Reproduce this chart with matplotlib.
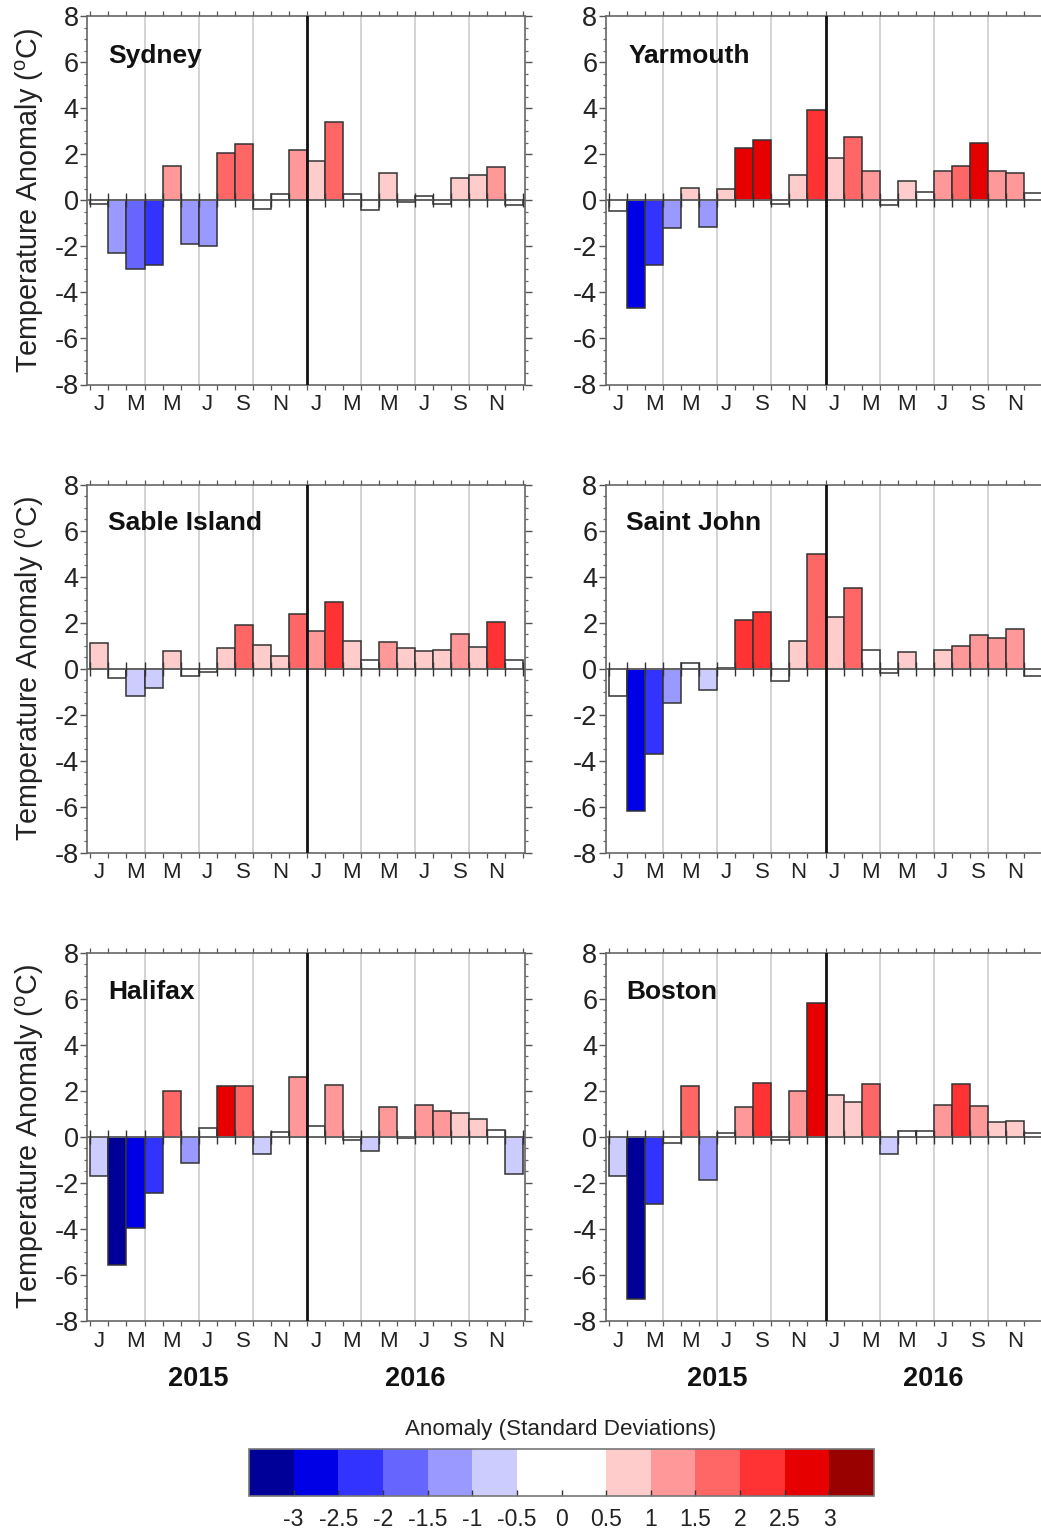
import numpy as np
import matplotlib
matplotlib.use('Agg')
import matplotlib.pyplot as plt
from matplotlib.colors import ListedColormap, BoundaryNorm

plt.rcParams['font.family'] = ['Liberation Sans', 'DejaVu Sans']
plt.rcParams['mathtext.fontset'] = 'custom'
plt.rcParams['mathtext.rm'] = 'Liberation Sans'
plt.rcParams['axes.unicode_minus'] = False

#%%
# Monthly temperature anomaly (deg C), Jan 2015 - Dec 2016
sydney = [-0.15, -2.3, -3.0, -2.82, 1.48, -1.9, -2.0, 2.05, 2.45, -0.4, 0.25, 2.2,
          1.72, 3.4, 0.25, -0.42, 1.2, -0.08, 0.2, -0.15, 0.95, 1.1, 1.43, -0.2]
yarmouth = [-0.45, -4.67, -2.82, -1.2, 0.52, -1.18, 0.47, 2.28, 2.6, -0.15, 1.1, 3.92,
            1.83, 2.73, 1.27, -0.2, 0.82, 0.35, 1.27, 1.5, 2.5, 1.25, 1.2, 0.33]
sable = [1.1, -0.4, -1.2, -0.85, 0.75, -0.3, -0.15, 0.9, 1.9, 1.05, 0.55, 2.37,
         1.63, 2.9, 1.2, 0.37, 1.17, 0.9, 0.77, 0.8, 1.5, 0.95, 2.05, 0.37]
saint_john = [-1.17, -6.2, -3.7, -1.5, 0.25, -0.93, 0.02, 2.1, 2.47, -0.55, 1.22, 5.0,
              2.23, 3.5, 0.8, -0.2, 0.72, -0.03, 0.82, 1.0, 1.48, 1.33, 1.72, -0.3]
halifax = [-1.72, -5.55, -3.95, -2.43, 2.0, -1.12, 0.37, 2.23, 2.23, -0.73, 0.2, 2.6,
           0.47, 2.25, -0.15, -0.63, 1.3, -0.03, 1.37, 1.13, 1.03, 0.77, 0.3, -1.6]
boston = [-1.7, -7.05, -2.92, -0.27, 2.23, -1.87, 0.18, 1.3, 2.33, -0.15, 2.0, 5.8,
          1.8, 1.53, 2.28, -0.73, 0.25, 0.25, 1.37, 2.28, 1.33, 0.65, 0.68, 0.15]

# Anomaly in standard deviations
sydney_sd = [-0.2, -1.2, -1.7, -2.2, 1.2, -1.2, -1.2, 1.7, 1.7, -0.2, 0.2, 1.2,
             0.7, 1.7, 0.2, -0.2, 0.7, -0.1, 0.1, -0.1, 0.7, 0.7, 1.2, -0.2]
yarmouth_sd = [-0.2, -2.7, -2.2, -1.2, 0.7, -1.2, 0.7, 2.7, 2.7, -0.2, 0.7, 2.2,
               0.7, 1.7, 1.2, -0.2, 0.7, 0.2, 1.2, 1.7, 2.7, 1.2, 1.2, 0.2]
sable_sd = [0.7, -0.2, -0.7, -0.7, 0.7, -0.2, -0.2, 0.7, 1.7, 0.7, 0.7, 1.7,
            1.2, 2.2, 0.7, 0.2, 1.2, 0.7, 0.7, 0.7, 1.2, 0.7, 2.2, 0.2]
saint_john_sd = [-0.2, -2.7, -2.2, -1.2, 0.2, -0.7, 0.0, 2.2, 2.2, -0.2, 0.7, 1.7,
                 0.7, 1.7, 0.2, -0.2, 0.7, -0.1, 0.7, 1.2, 1.2, 1.2, 1.2, -0.2]
halifax_sd = [-0.7, -3.2, -2.7, -2.2, 1.7, -1.2, 0.2, 2.7, 1.7, -0.7, 0.2, 1.2,
              0.2, 1.2, -0.2, -0.7, 1.2, -0.1, 1.2, 1.2, 0.7, 0.7, 0.2, -0.7]
boston_sd = [-0.7, -3.2, -2.2, -0.2, 1.7, -1.2, 0.2, 1.2, 2.2, -0.2, 1.2, 2.7,
             0.7, 0.7, 1.7, -0.7, 0.2, 0.2, 1.2, 2.2, 1.2, 0.7, 0.7, 0.2]

month_labels = ['J', 'M', 'M', 'J', 'S', 'N', 'J', 'M', 'M', 'J', 'S', 'N']
y_ticks = [-8, -6, -4, -2, 0, 2, 4, 6, 8]
sd_levels = [-3, -2.5, -2, -1.5, -1, -0.5, 0, 0.5, 1, 1.5, 2, 2.5, 3]
sd_labels = ['-3', '-2.5', '-2', '-1.5', '-1', '-0.5', '0', '0.5', '1', '1.5', '2', '2.5', '3']
sd_colors = ['#000099', '#0000e6', '#3333ff', '#6666ff', '#9999ff', '#ccccff', '#ffffff',
             '#ffffff', '#ffcccc', '#ff9999', '#ff6666', '#ff3333', '#e60000', '#990000']

cmap = ListedColormap(sd_colors)
bounds = [-3.5] + sd_levels + [3.5]
norm = BoundaryNorm(bounds, cmap.N)

W, H = 1041, 1530
fig = plt.figure(figsize=(W/100, H/100), dpi=100)

def px_axes(x0, y0, x1, y1):
    # pixel box (y measured from the top) to a figure axes
    return fig.add_axes([x0/W, 1-y1/H, (x1-x0)/W, (y1-y0)/H])

def panel(box, name, vals, sds, name_x, name_y, left=False, bottom=False):
    ax = px_axes(*box)
    months = np.arange(24)
    ax.set_xlim(-0.19, 24.1)
    ax.set_ylim(-8, 8)
    for g in [3, 6, 9, 15, 18, 21]:
        ax.axvline(g, color='#c8c8c8', lw=1.1, zorder=0)
    ax.bar(months, vals, width=1, align='edge', color=cmap(norm(sds)),
           edgecolor='#333333', lw=1.1, zorder=2)
    ax.axhline(0, color='#666666', lw=1.3, zorder=3)
    ax.vlines(np.arange(25), -0.3, 0.3, color='#333333', lw=1.0, zorder=3)
    ax.axvline(12, color='#111111', lw=2.0, zorder=4)

    ax.set_xticks(np.arange(0, 25), minor=True)
    ax.set_xticks(np.arange(0.5, 24, 2))
    ax.set_xticklabels(month_labels, fontsize=16, color='#222222')
    ax.tick_params(axis='x', which='major', length=0, pad=7)
    ax.tick_params(axis='x', which='minor', length=3.5, width=0.9, top=True, bottom=True, color='#555555')
    ax.set_yticks(y_ticks)
    ax.set_yticks(np.arange(-8, 8.1, 0.5), minor=True)
    ax.tick_params(axis='y', which='major', length=5, width=1.0, left=True, right=True,
                   labelsize=19.5, labelcolor='#222222', color='#555555', pad=1)
    ax.tick_params(axis='y', which='minor', length=2, width=0.9, left=True, right=True, color='#666666')
    for s in ax.spines.values():
        s.set_color('#666666')
        s.set_linewidth(1.2)
    ax.text(name_x, name_y, name, fontsize=19, fontweight='bold', color='#111111', va='center')
    if left:
        ax.set_ylabel('Temperature Anomaly ($\\mathrm{^{o}}$C)', fontsize=20.7, color='#222222')
        ax.yaxis.set_label_coords(-0.093, 0.5)
    if bottom:
        tr = ax.get_xaxis_transform()
        ax.text(6, -0.157, '2015', transform=tr, fontsize=19.5, fontweight='bold', ha='center', va='center', color='#111111')
        ax.text(18, -0.157, '2016', transform=tr, fontsize=19.5, fontweight='bold', ha='center', va='center', color='#111111')
    return ax

#%%
lx = (87, 525)
rx = (605.7, 1043.7)
ry = [(16, 384.5), (484.7, 852.7), (952.7, 1321)]

panel((lx[0], ry[0][0], lx[1], ry[0][1]), 'Sydney', sydney, sydney_sd, 1.0, 6.25, left=True)
panel((rx[0], ry[0][0], rx[1], ry[0][1]), 'Yarmouth', yarmouth, yarmouth_sd, 1.1, 6.25)
panel((lx[0], ry[1][0], lx[1], ry[1][1]), 'Sable Island', sable, sable_sd, 1.0, 6.33, left=True)
panel((rx[0], ry[1][0], rx[1], ry[1][1]), 'Saint John', saint_john, saint_john_sd, 0.95, 6.33)
panel((lx[0], ry[2][0], lx[1], ry[2][1]), 'Halifax', halifax, halifax_sd, 1.0, 6.28, left=True, bottom=True)
panel((rx[0], ry[2][0], rx[1], ry[2][1]), 'Boston', boston, boston_sd, 0.95, 6.28, bottom=True)

#%%
# Colour bar
cax = px_axes(249, 1449, 874, 1496)
sm = plt.cm.ScalarMappable(norm=norm, cmap=cmap)
cb = fig.colorbar(sm, cax=cax, orientation='horizontal', spacing='uniform', ticks=sd_levels)
cb.ax.set_xticklabels(sd_labels, fontsize=16.5, color='#222222')
cb.ax.tick_params(axis='x', direction='in', length=4, width=1.0, color='#333333', pad=9)
cb.ax.minorticks_off()
cb.outline.set_edgecolor('#777777')
cb.outline.set_linewidth(1.2)
fig.text(561/W, 1-1430/H, 'Anomaly (Standard Deviations)', fontsize=16.1, color='#222222', ha='center', va='center')

fig.savefig('out.png', dpi=100)
